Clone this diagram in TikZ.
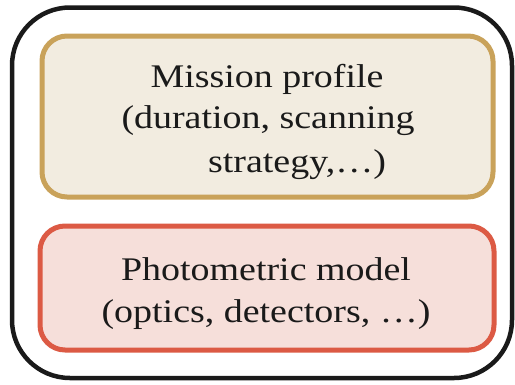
\documentclass[tikz,border=0pt]{standalone}
\usepackage{fontspec}
\setmainfont[FakeStretch=1.15]{Liberation Serif}
\definecolor{frameblack}{HTML}{1A1A1A}
\definecolor{tanline}{HTML}{C9A25A}
\definecolor{tanfill}{HTML}{F2ECE0}
\definecolor{redline}{HTML}{DC5A44}
\definecolor{redfill}{HTML}{F6DFDA}
\definecolor{inktext}{HTML}{1A1A1A}
\begin{document}
\begin{tikzpicture}[x=1pt,y=-1pt,
  panel/.style={rectangle, draw, line width=5pt, rounded corners=25pt, inner sep=0pt},
  txt/.style={anchor=base, inner sep=0pt, text=inktext, font=\fontsize{33}{42}\selectfont}]
\useasboundingbox (0,0) rectangle (515,384);

% outer frame
\node[rectangle, draw=frameblack, line width=4.5pt, rounded corners=58pt,
      minimum width=500pt, minimum height=370.5pt, inner sep=0pt] (frame) at (262,192.75) {};

% mission profile panel
\node[panel, draw=tanline, fill=tanfill, minimum width=451pt, minimum height=161pt]
  (mission) at (267.5,116.5) {};
\node[txt] (m1) at (267,87)  {Mission profile};
\node[txt] (m2) at (268,128) {(duration, scanning};
\node[txt] (m3) at (297,172) {strategy,…)};

% photometric model panel
\node[panel, draw=redline, fill=redfill, minimum width=454pt, minimum height=124pt]
  (photo) at (267,288) {};
\node[txt] (p1) at (266,280) {Photometric model};
\node[txt] (p2) at (266,322) {(optics, detectors, …)};
\end{tikzpicture}
\end{document}
